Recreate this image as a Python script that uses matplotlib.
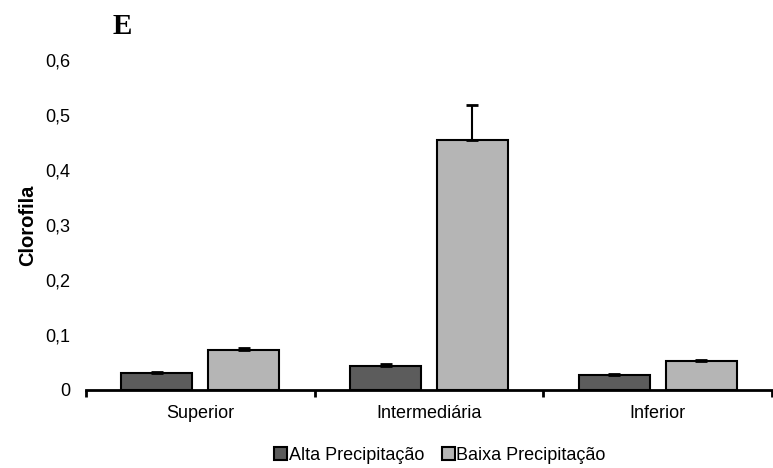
import matplotlib
matplotlib.use("Agg")
import matplotlib.pyplot as plt
import numpy as np
from matplotlib.ticker import FuncFormatter

categories = ["Superior", "Intermediária", "Inferior"]
series_names = ["Alta Precipitação", "Baixa Precipitação"]
alta = [0.031, 0.044, 0.028]
alta_err = [0.002, 0.003, 0.002]
baixa = [0.073, 0.455, 0.052]
baixa_err = [0.004, 0.064, 0.002]
y_ticks = [0, 0.1, 0.2, 0.3, 0.4, 0.5, 0.6]

plt.rcParams["font.family"] = ["Liberation Sans", "DejaVu Sans"]
FS = 13

fig = plt.figure(figsize=(7.73, 4.68), dpi=100)
ax = fig.add_axes([86 / 773, 1 - 390 / 468, 686 / 773, 330 / 468])

x = np.arange(len(categories))
w = 0.31
off = 0.19
err_kw = dict(ecolor="black", elinewidth=1.5, capsize=4, capthick=2)
ax.bar(x - off, alta, w, yerr=[[0, 0, 0], alta_err], color="#5c5c5c",
       edgecolor="black", linewidth=1.5, error_kw=err_kw, label=series_names[0])
ax.bar(x + off, baixa, w, yerr=[[0, 0, 0], baixa_err], color="#b5b5b5",
       edgecolor="black", linewidth=1.5, error_kw=err_kw, label=series_names[1])

ax.set_xlim(-0.5, len(categories) - 0.5)
ax.set_ylim(0, 0.6)
ax.set_yticks(y_ticks)
ax.yaxis.set_major_formatter(FuncFormatter(lambda v, p: "0" if v == 0 else f"{v:.1f}".replace(".", ",")))
ax.tick_params(axis="y", length=0, pad=11, labelsize=FS)

ax.set_xticks(x)
ax.set_xticklabels(categories, fontsize=FS)
ax.set_xticks(np.arange(-0.5, len(categories)), minor=True)
ax.tick_params(axis="x", which="major", length=0, pad=11)
ax.tick_params(axis="x", which="minor", length=5, width=2, direction="out")

for s in ["top", "right", "left"]:
    ax.spines[s].set_visible(False)
ax.spines["bottom"].set_linewidth(2)

ax.set_ylabel("Clorofila", fontsize=14.5, fontweight="bold", labelpad=6)

fig.text(113 / 773, 1 - 27 / 468, "E", fontsize=21, fontweight="bold",
         family="Liberation Serif", ha="left", va="center")

fig.legend(loc="center", bbox_to_anchor=(440 / 773, 1 - 455 / 468), ncol=2,
           frameon=False, fontsize=FS, handlelength=0.7, handleheight=0.7,
           handletextpad=0.1, columnspacing=1.0)

fig.savefig("out.png", dpi=100)
